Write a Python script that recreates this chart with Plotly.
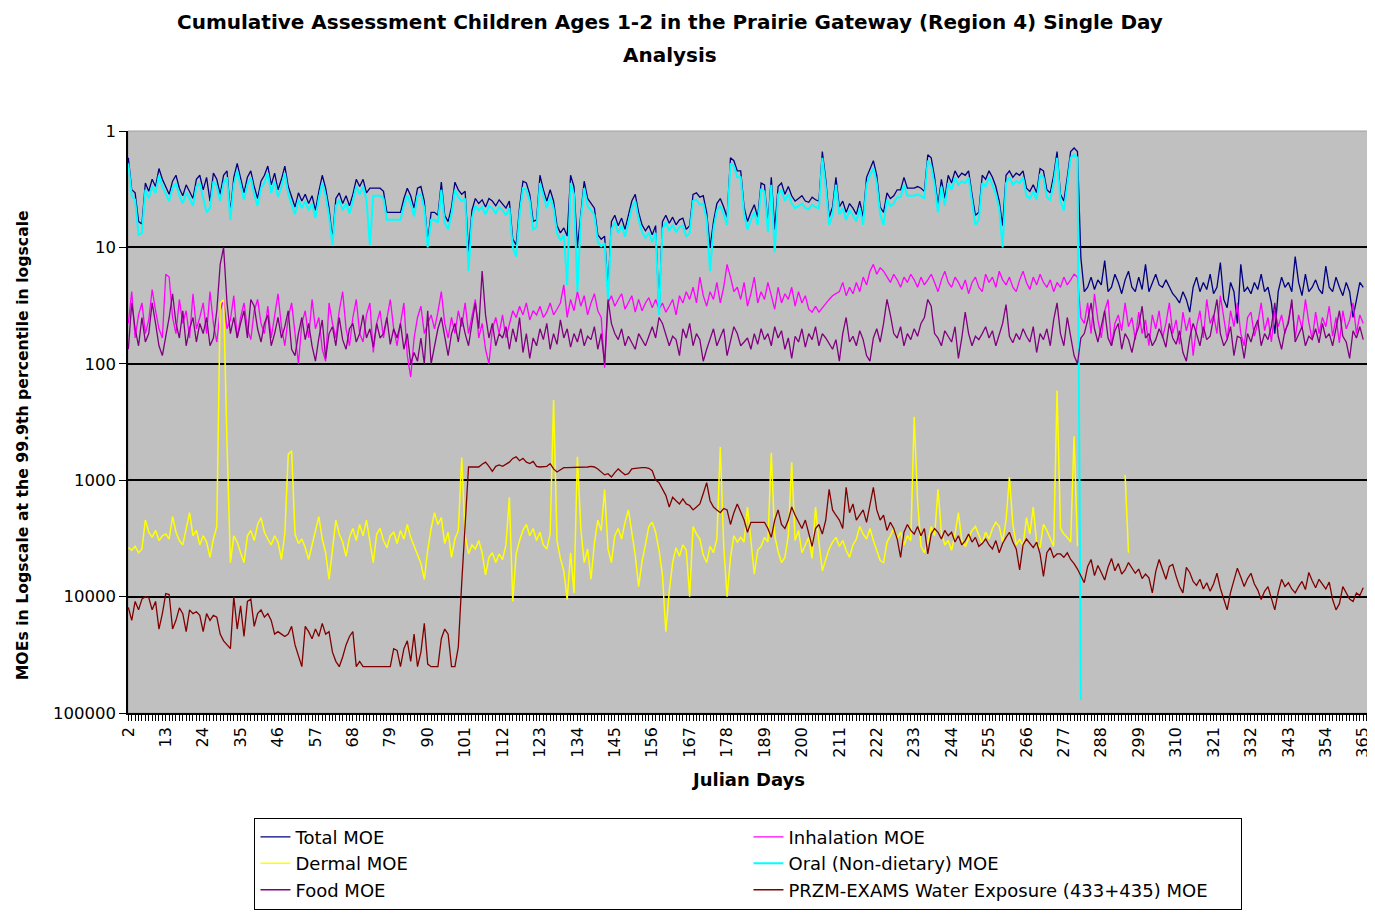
import plotly.graph_objects as go

# ---------------- DATA ----------------
days = list(range(2, 366))
x_tick_days = [2, 13, 24, 35, 46, 57, 68, 79, 90, 101, 112, 123, 134, 145, 156, 167, 178,
               189, 200, 211, 222, 233, 244, 255, 266, 277, 288, 299, 310, 321, 332, 343, 354, 365]
x_tick_labels = ["2", "13", "24", "35", "46", "57", "68", "79", "90", "101", "112", "123", "134",
                 "145", "156", "167", "178", "189", "200", "211", "222", "233", "244", "255", "266",
                 "277", "288", "299", "310", "321", "332", "343", "354", "365"]
y_tick_vals = [1, 10, 100, 1000, 10000, 100000]
y_tick_labels = ["1", "10", "100", "1000", "10000", "100000"]

total_moe = [
    1.7, 3.2, 3.4, 6.0, 6.3, 2.8, 3.3, 2.6, 3.0, 2.1, 2.6,
    3.0, 3.5, 2.7, 2.4, 3.1, 3.6, 2.9, 3.3, 3.8, 2.6, 2.4,
    3.2, 2.5, 4.0, 2.3, 2.6, 3.5, 2.4, 2.2, 5.0, 2.5, 1.9,
    2.6, 3.4, 2.5, 2.2, 3.0, 3.8, 2.7, 2.4, 2.0, 2.9, 2.3,
    3.2, 2.6, 2.0, 3.0, 3.6, 4.5, 3.4, 4.0, 3.5, 4.2, 3.6,
    4.8, 3.3, 2.4, 3.1, 4.6, 8.5, 3.8, 3.4, 4.2, 3.6, 4.4,
    3.5, 2.6, 3.0, 2.6, 3.4, 3.1, 3.1, 3.1, 3.1, 3.3, 5.0,
    5.0, 5.0, 5.0, 5.0, 3.8, 3.1, 3.6, 4.6, 3.1, 3.0, 4.0,
    9.0, 5.0, 5.0, 5.3, 2.75, 5.3, 6.0, 4.5, 2.75, 3.2, 3.5,
    3.3, 11.0, 4.8, 3.8, 4.2, 3.9, 4.5, 3.8, 4.0, 4.4, 3.9,
    4.2, 4.6, 4.0, 8.5, 9.5, 4.5, 2.7, 2.8, 3.5, 6.0, 5.8,
    2.4, 3.2, 4.0, 3.2, 4.0, 6.5, 7.5, 6.8, 8.0, 2.4, 3.0,
    10.0, 5.0, 2.7, 3.8, 4.2, 4.6, 7.8, 8.5, 8.0, 24.0, 6.0,
    5.3, 6.5, 5.6, 7.0, 5.3, 4.0, 3.5, 5.0, 6.4, 7.2, 6.5,
    7.8, 6.5, 36.0, 6.0, 5.3, 6.2, 5.5, 6.4, 5.8, 5.6, 7.0,
    6.5, 3.5, 3.4, 3.7, 3.6, 5.0, 10.0, 6.0, 4.2, 3.8, 4.5,
    5.5, 1.7, 1.8, 2.2, 2.2, 4.5, 6.0, 5.0, 4.3, 5.5, 2.8,
    2.9, 6.4, 2.5, 7.0, 3.0, 2.8, 3.5, 3.0, 3.6, 4.0, 3.8,
    3.6, 4.0, 4.1, 3.7, 3.9, 4.0, 1.5, 2.6, 5.5, 4.5, 2.5,
    4.5, 4.0, 5.0, 4.2, 4.6, 5.2, 4.0, 5.5, 2.5, 2.1, 1.8,
    2.4, 4.5, 5.0, 3.4, 3.8, 3.6, 3.2, 3.2, 2.5, 3.1, 3.1,
    3.1, 3.0, 3.1, 3.3, 1.6, 1.7, 2.5, 4.3, 2.6, 3.8, 2.4,
    2.8, 2.2, 2.5, 2.3, 2.4, 2.2, 3.5, 5.3, 5.0, 2.4, 2.6,
    2.2, 2.5, 3.0, 4.0, 6.5, 2.4, 2.2, 2.5, 2.3, 2.4, 2.2,
    3.1, 3.3, 2.9, 3.4, 2.1, 2.2, 3.2, 3.4, 2.4, 1.5, 3.5,
    4.0, 2.5, 1.5, 1.4, 1.5, 12.3, 24.0, 22.0, 18.0, 23.0, 19.0,
    21.0, 13.0, 24.0, 22.0, 17.0, 20.0, 25.0, 19.0, 16.0, 22.0, 24.0,
    18.0, 23.0, 14.0, 24.0, 20.0, 17.0, 21.0, 22.0, 19.0, 22.0, 25.0,
    27.0, 30.0, 24.0, 28.0, 36.0, 22.0, 18.0, 24.0, 20.0, 23.0, 17.0,
    25.0, 22.0, 13.5, 28.0, 33.0, 20.0, 24.0, 45.0, 14.0, 24.0, 22.0,
    25.0, 20.0, 23.0, 17.0, 24.0, 22.0, 30.0, 55.0, 24.0, 18.0, 22.0,
    20.0, 24.0, 12.0, 20.0, 26.0, 17.0, 24.0, 22.0, 19.0, 23.0, 25.0,
    14.5, 22.0, 24.0, 18.0, 22.0, 26.0, 20.0, 24.0, 40.0, 28.0, 20.0,
    22.0,
]

inhalation_moe = [
    45, 24, 60, 38, 30, 55, 42, 23, 35, 50, 60,
    17, 18, 40, 55, 28, 45, 35, 60, 25, 50, 40,
    30, 55, 24, 45, 65, 35, 28, 50, 42, 26, 60,
    40, 30, 50, 62, 35, 28, 45, 55, 32, 60, 38,
    25, 48, 70, 40, 30, 55, 100, 45, 35, 60, 28,
    50, 40, 75, 95, 30, 45, 60, 35, 24, 50, 70,
    40, 28, 55, 65, 38, 30, 80, 45, 35, 60, 40,
    28, 50, 70, 45, 30, 85, 130, 60, 40, 32, 55,
    45, 38, 50, 36, 24, 45, 60, 40, 55, 35, 48,
    30, 55, 40, 28, 60, 45, 75, 100, 50, 40, 55,
    38, 60, 45, 35, 40, 32, 38, 30, 42, 35, 38,
    32, 40, 36, 30, 38, 34, 30, 21, 40, 28, 35,
    24, 32, 26, 38, 30, 25, 35, 40, 108, 30, 26,
    32, 28, 25, 34, 30, 26, 36, 28, 35, 30, 27,
    33, 28, 34, 30, 36, 32, 28, 38, 26, 30, 24,
    28, 22, 30, 18, 26, 32, 24, 28, 20, 30, 22,
    14, 18, 24, 22, 28, 20, 32, 25, 18, 30, 24,
    28, 20, 26, 34, 22, 30, 25, 28, 22, 32, 24,
    30, 26, 34, 36, 32, 36, 33, 30, 28, 26, 25,
    24, 20, 26, 22, 25, 20, 24, 18, 21, 16, 14,
    17, 15, 16, 18, 20, 17, 19, 22, 18, 20, 17,
    19, 22, 18, 21, 19, 17, 20, 24, 19, 16, 20,
    22, 18, 20, 23, 19, 25, 20, 18, 22, 24, 17,
    20, 18, 22, 16, 19, 21, 18, 22, 24, 19, 16,
    20, 23, 18, 21, 17, 20, 22, 19, 24, 20, 22,
    18, 21, 19, 17, 18, 40, 45, 30, 55, 25, 42,
    60, 35, 28, 70, 45, 38, 52, 30, 48, 40, 62,
    36, 55, 42, 70, 38, 50, 35, 60, 45, 30, 55,
    42, 68, 36, 52, 40, 85, 48, 35, 60, 28, 45,
    38, 55, 26, 42, 62, 35, 48, 30, 55, 70, 40,
    36, 58, 45, 30, 52, 40, 65, 35, 48, 38, 55,
    42, 30, 60, 38, 50, 28, 44, 62, 36, 55, 40,
    48, 32, 58, 40, 66, 35, 50, 42, 30, 55, 38,
    45,
]

# Dermal: days 2..296 (blank days 282-294)
dermal_moe = [
    3800, 4000, 3700, 4200, 3900, 2200, 2800, 3100, 2700, 3300, 3000,
    2900, 3200, 2050, 2800, 3300, 3600, 2600, 1900, 3000, 2700, 3600,
    3000, 3400, 4600, 3200, 2500, 30, 28, 480, 5100, 3000, 3400,
    4200, 5100, 3000, 2700, 3300, 2400, 2100, 2800, 3200, 3600, 3000,
    3400, 4800, 2900, 600, 560, 2900, 3500, 3200, 3800, 4800, 3600,
    2800, 2050, 3200, 4200, 7100, 3800, 2200, 2900, 3400, 4500, 3100,
    2600, 3300, 2400, 3000, 2200, 3400, 5100, 2900, 2600, 3300, 3800,
    3000, 2800, 3500, 2700, 3200, 2400, 3100, 3700, 4500, 5200, 7100,
    4000, 2600, 1900, 2400, 2100, 3500, 2800, 4600, 3200, 2700, 640,
    3000, 4300, 3600, 3900, 3300, 4200, 6500, 4600, 4200, 5100, 4300,
    4800, 3600, 1400, 11000, 4300, 3300, 2700, 2400, 3000, 2600, 3300,
    2800, 3600, 3900, 2900, 205, 3300, 4700, 6000, 10600, 4200, 9300,
    630, 2600, 5100, 3900, 7100, 3500, 2200, 2700, 1200, 3900, 5100,
    3000, 2600, 3200, 2300, 1800, 2800, 4400, 8200, 5000, 3600, 2500,
    2300, 2800, 4000, 6500, 20000, 9000, 5100, 3800, 4500, 3600, 4000,
    10000, 2500, 2900, 3200, 4400, 5100, 3700, 4200, 3200, 520, 3600,
    10000, 4600, 3000, 3400, 3100, 3400, 1700, 3300, 6400, 4000, 3700,
    3100, 3400, 580, 3000, 4100, 5100, 4600, 3000, 700, 3300, 2700,
    4200, 3600, 3100, 4700, 1700, 3400, 6000, 4800, 3900, 3400, 3100,
    3700, 3300, 4000, 4600, 3600, 3200, 2500, 2900, 3200, 2600, 3300,
    4100, 4900, 5100, 3400, 3000, 2600, 3200, 2800, 3600, 3000, 3300,
    285, 1500, 3700, 4200, 3400, 2500, 3000, 1200, 2800, 3600, 3300,
    4000, 2900, 1900, 3300, 3700, 3100, 2700, 2500, 3000, 3500, 2800,
    3200, 2600, 2300, 2500, 3400, 2200, 940, 2400, 3600, 3200, 3700,
    2100, 2900, 1700, 3500, 3800, 2400, 2700, 3200, 3700, 170, 2600,
    2900, 3100, 3400, 420, 3700,
    None, None, None, None, None, None, None, None, None, None, None, None, None,
    900, 4200,
]

# Oral (non-dietary): days 2..282
oral_moe = [
    1.9, 3.6, 3.9, 7.8, 7.5, 3.2, 3.8, 3.0, 3.4, 2.4, 3.0,
    3.5, 4.0, 3.1, 2.8, 3.6, 4.2, 3.4, 3.8, 4.4, 3.0, 2.8,
    3.7, 5.0, 4.6, 2.7, 3.0, 4.0, 2.8, 2.5, 5.8, 2.9, 2.2,
    3.0, 3.9, 2.9, 2.5, 3.5, 4.4, 3.1, 2.8, 2.3, 3.4, 2.7,
    3.7, 3.0, 2.3, 3.5, 4.2, 5.2, 3.9, 4.6, 4.0, 4.8, 4.2,
    5.6, 3.8, 2.8, 3.6, 5.4, 9.5, 4.4, 3.9, 4.8, 4.2, 5.1,
    4.0, 3.0, 3.5, 3.0, 3.9, 9.5, 3.6, 3.6, 3.6, 3.8, 5.8,
    5.8, 5.8, 5.8, 5.8, 4.4, 3.6, 4.2, 5.4, 3.6, 3.5, 4.6,
    10.0, 5.8, 5.8, 6.1, 3.2, 6.1, 7.0, 5.2, 3.2, 3.7, 4.0,
    3.8, 16.0, 5.6, 4.4, 4.8, 4.5, 5.2, 4.4, 4.6, 5.1, 4.5,
    4.8, 5.3, 4.6, 10.0, 12.0, 5.2, 3.1, 3.2, 4.0, 7.0, 6.7,
    2.8, 3.7, 4.6, 3.7, 4.6, 7.5, 8.7, 7.8, 21.0, 2.8, 3.5,
    24.0, 5.8, 3.1, 4.4, 4.8, 5.3, 9.0, 9.8, 9.2, 28.0, 7.0,
    6.1, 7.5, 6.5, 8.1, 6.1, 4.6, 4.0, 5.8, 7.4, 8.3, 7.5,
    9.0, 7.5, 38.0, 7.0, 6.1, 7.2, 6.4, 7.4, 6.7, 6.5, 8.1,
    7.5, 4.0, 3.9, 4.3, 4.2, 5.8, 16.0, 7.0, 4.8, 4.4, 5.2,
    6.4, 1.9, 2.0, 2.5, 2.5, 5.2, 7.0, 5.8, 5.0, 6.4, 3.2,
    3.3, 7.4, 2.9, 11.0, 3.5, 3.2, 4.0, 3.5, 4.2, 4.6, 4.4,
    4.2, 4.6, 4.7, 4.3, 4.5, 4.6, 1.7, 3.0, 6.4, 5.2, 2.9,
    5.2, 4.6, 5.8, 4.8, 5.3, 6.0, 4.6, 6.4, 2.9, 2.4, 2.1,
    2.8, 5.2, 6.4, 3.9, 4.4, 4.2, 3.7, 3.7, 2.9, 3.6, 3.6,
    3.6, 3.5, 3.6, 3.8, 1.8, 2.0, 2.9, 5.0, 3.0, 4.4, 2.8,
    3.2, 2.5, 2.9, 2.7, 2.8, 2.5, 4.0, 6.4, 5.8, 2.8, 3.0,
    2.5, 2.9, 3.5, 4.6, 10.0, 2.8, 2.5, 2.9, 2.7, 2.8, 2.5,
    3.6, 3.8, 3.3, 3.9, 2.4, 2.5, 3.7, 3.9, 2.8, 1.7, 4.0,
    4.8, 2.9, 1.7, 1.6, 1.7, 77000,
]

food_moe = [
    75, 30, 50, 70, 40, 65, 55, 30, 45, 70, 85,
    60, 40, 25, 45, 60, 35, 70, 50, 40, 65, 45,
    55, 40, 70, 60, 35, 14, 10, 30, 55, 40, 60,
    45, 35, 60, 28, 32, 50, 65, 45, 38, 70, 55,
    40, 60, 48, 35, 75, 85, 55, 40, 62, 45, 70,
    95, 60, 42, 90, 55, 48, 70, 40, 62, 75, 50,
    45, 65, 55, 38, 60, 50, 72, 45, 60, 55, 40,
    68, 50, 60, 45, 75, 55, 100, 80, 95, 60, 100,
    35, 100, 70, 50, 40, 60, 85, 55, 45, 65, 40,
    55, 70, 45, 30, 50, 16, 38, 60, 45, 70, 55,
    60, 48, 75, 50, 65, 40, 80, 55, 90, 60, 70,
    50, 62, 45, 75, 55, 68, 42, 60, 50, 72, 55,
    65, 50, 70, 58, 62, 48, 75, 55, 100, 28, 45,
    55, 62, 50, 70, 58, 65, 75, 55, 62, 70, 58,
    48, 60, 40, 45, 55, 70, 58, 62, 85, 50, 60,
    45, 70, 55, 62, 95, 75, 60, 50, 70, 58, 50,
    85, 62, 48, 55, 70, 65, 60, 75, 55, 68, 50,
    62, 55, 70, 48, 60, 52, 75, 60, 90, 58, 65,
    50, 72, 55, 62, 48, 70, 55, 60, 68, 75, 62,
    95, 55, 40, 65, 58, 70, 52, 62, 85, 95, 60,
    50, 65, 45, 28, 38, 55, 60, 48, 70, 55, 62,
    50, 58, 45, 40, 28, 32, 55, 60, 70, 52, 58,
    65, 48, 90, 60, 36, 55, 70, 58, 62, 55, 48,
    60, 52, 70, 55, 45, 31, 58, 66, 55, 62, 50,
    58, 65, 48, 80, 55, 62, 50, 70, 42, 30, 55,
    70, 40, 60, 85, 100, 60, 55, 42, 30, 50, 65,
    48, 35, 60, 70, 52, 45, 75, 55, 62, 80, 58,
    48, 32, 60, 55, 70, 62, 50, 58, 72, 45, 60,
    68, 52, 80, 95, 60, 45, 55, 70, 48, 62, 58,
    40, 28, 55, 70, 62, 48, 85, 58, 60, 90, 55,
    65, 50, 42, 70, 55, 62, 48, 30, 58, 75, 52,
    45, 28, 65, 55, 48, 70, 58, 62, 50, 66, 45,
    60, 55, 70, 48, 35, 58, 65, 90, 52, 60, 48,
    62,
]

water_moe = [
    12400, 16000, 11000, 13000, 10500, 10000, 10200, 13000, 11000, 19000, 14000,
    9400, 9600, 19000, 16000, 12500, 14000, 20000, 13000, 14000, 13500, 14500,
    20000, 14000, 16000, 14500, 15000, 21000, 24000, 26000, 28000, 10000, 19000,
    12000, 22000, 11000, 10500, 18000, 14000, 13000, 15000, 14000, 16000, 21000,
    20000, 21000, 22000, 21000, 18000, 26000, 33000, 40000, 18000, 20000, 23000,
    19000, 22000, 17000, 21000, 20000, 30000, 36000, 40000, 33000, 26000, 22000,
    20000, 40000, 36000, 40000, 40000, 40000, 40000, 40000, 40000, 40000, 40000,
    40000, 28000, 29000, 40000, 28000, 24000, 36000, 21000, 40000, 30000, 17000,
    38000, 40000, 40000, 40000, 23000, 19000, 21000, 40000, 40000, 27000, 7600,
    2200, 770, 770, 770, 770, 730, 700, 760, 840, 760, 740,
    760, 730, 700, 650, 630, 680, 650, 700, 720, 690, 760,
    770, 760, 760, 720, 800, 850, 820, 780, 780, 780, 780,
    780, 780, 770, 770, 760, 770, 800, 850, 900, 880, 940,
    860, 800, 850, 900, 880, 800, 790, 780, 780, 780, 790,
    830, 1000, 1050, 1200, 1350, 1700, 1400, 1500, 1600, 1450, 1600,
    1650, 1800, 1700, 1600, 1300, 1050, 1500, 1700, 1800, 1900, 1750,
    1800, 2400, 1900, 1600, 1900, 2200, 2800, 2300, 2300, 2300, 2300,
    2300, 2600, 3100, 2200, 1800, 2400, 2600, 2200, 1700, 2000, 2300,
    2600, 2200, 2900, 3700, 2600, 2400, 2900, 2200, 1200, 1800, 2000,
    2200, 2600, 1150, 1900, 1600, 2200, 2000, 1800, 2300, 1600, 1150,
    1800, 2200, 2000, 2700, 2300, 2600, 3200, 4600, 2800, 2400, 2700,
    2900, 2500, 3000, 2600, 4300, 2900, 2600, 2800, 3200, 2700, 3000,
    2800, 3400, 3000, 3600, 3300, 2900, 3400, 3100, 3700, 3500, 3200,
    3600, 3900, 3300, 4200, 3500, 3100, 2800, 3400, 3900, 5900, 3600,
    3200, 3500, 3800, 3400, 4300, 6700, 4200, 3800, 4600, 4300, 4300,
    4600, 4200, 4800, 5200, 5800, 6600, 7600, 5500, 4800, 6600, 5400,
    6200, 7200, 5600, 4700, 6000, 5200, 6400, 5900, 5100, 5600, 6300,
    5800, 7000, 6400, 6900, 9300, 6100, 4800, 5900, 7100, 5500, 5300,
    6700, 8200, 9300, 5600, 6200, 7400, 8000, 7100, 8600, 7600, 9000,
    7800, 6300, 8500, 10500, 13000, 9200, 7300, 5700, 6800, 8200, 7000,
    6300, 7800, 8800, 10600, 9000, 8200, 10500, 13000, 9200, 7100, 8200,
    7600, 8600, 9300, 8200, 7400, 8700, 6200, 7300, 8400, 7100, 7900,
    8600, 7500, 10600, 13000, 11500, 8200, 9200, 10500, 11000, 9300, 9800,
    8400,
]

# ---------------- FIGURE ----------------
FONT = "DejaVu Sans"

series = [
    ("Total MOE", total_moe, "#000080", 1.3),
    ("Inhalation MOE", inhalation_moe, "#FF00FF", 1.3),
    ("Dermal MOE", dermal_moe, "#FFFF00", 1.5),
    ("Oral (Non-dietary) MOE", oral_moe, "#00FFFF", 2.0),
    ("Food MOE", food_moe, "#800080", 1.3),
    ("PRZM-EXAMS Water Exposure (433+435) MOE", water_moe, "#800000", 1.3),
]

fig = go.Figure()
for name, vals, color, w in series:
    fig.add_trace(go.Scatter(
        x=days[:len(vals)], y=vals, name=name, mode="lines",
        line=dict(color=color, width=w), connectgaps=False,
    ))

fig.update_layout(
    width=1367, height=910,
    margin=dict(l=120, r=7, t=123, b=205, autoexpand=False),
    paper_bgcolor="white",
    plot_bgcolor="#C0C0C0",
    font=dict(family=FONT, size=16, color="black"),
    showlegend=True,
    legend=dict(
        orientation="h", x=0.102, xanchor="left", y=-0.18, yanchor="top",
        bgcolor="white", bordercolor="black", borderwidth=1,
        entrywidth=448, entrywidthmode="pixels",
        font=dict(family=FONT, size=18, color="black"),
        traceorder="normal",
    ),
    xaxis=dict(
        range=[1.9, 366.4], tickmode="array", tickvals=x_tick_days, ticktext=x_tick_labels,
        tickangle=-90, ticks="outside", ticklen=6, tickcolor="black",
        ticklabeloverflow="allow", automargin=False,
        minor=dict(ticks="outside", dtick=1, tick0=2, ticklen=6, tickcolor="black", showgrid=False),
        showline=True, linecolor="black", linewidth=1.5, showgrid=False, zeroline=False,
        tickfont=dict(family=FONT, size=16),
    ),
    yaxis=dict(
        type="log", range=[5, 0], tickmode="array", tickvals=y_tick_vals, ticktext=y_tick_labels,
        ticks="outside", ticklen=7, tickcolor="black", automargin=False,
        showline=True, linecolor="black", linewidth=1.5,
        showgrid=True, gridcolor="black", gridwidth=1.5, zeroline=False,
        tickfont=dict(family=FONT, size=16.5),
    ),
)

# thin light border around the plot area (top/right)
fig.add_shape(type="rect", xref="paper", yref="paper", x0=0, y0=0, x1=1, y1=1,
              line=dict(color="#A0A0A0", width=1), layer="below")

fig.add_annotation(text="<b>Cumulative Assessment Children Ages 1-2 in the Prairie Gateway (Region 4) Single Day</b>",
                   xref="paper", yref="paper", x=0.437, y=1.187, xanchor="center", yanchor="middle",
                   showarrow=False, font=dict(family=FONT, size=20))
fig.add_annotation(text="<b>Analysis</b>",
                   xref="paper", yref="paper", x=0.437, y=1.131, xanchor="center", yanchor="middle",
                   showarrow=False, font=dict(family=FONT, size=20))
fig.add_annotation(text="<b>Julian Days</b>", xref="paper", yref="paper", x=0.5, y=-0.115,
                   xanchor="center", yanchor="middle", showarrow=False, font=dict(family=FONT, size=18))
fig.add_annotation(text="<b>MOEs in Logscale at the 99.9th percentile in logscale</b>",
                   xref="paper", yref="paper", x=-0.0855, y=0.46, xanchor="center", yanchor="middle",
                   textangle=-90, showarrow=False, font=dict(family=FONT, size=15.7))

fig.write_html("out.html")
